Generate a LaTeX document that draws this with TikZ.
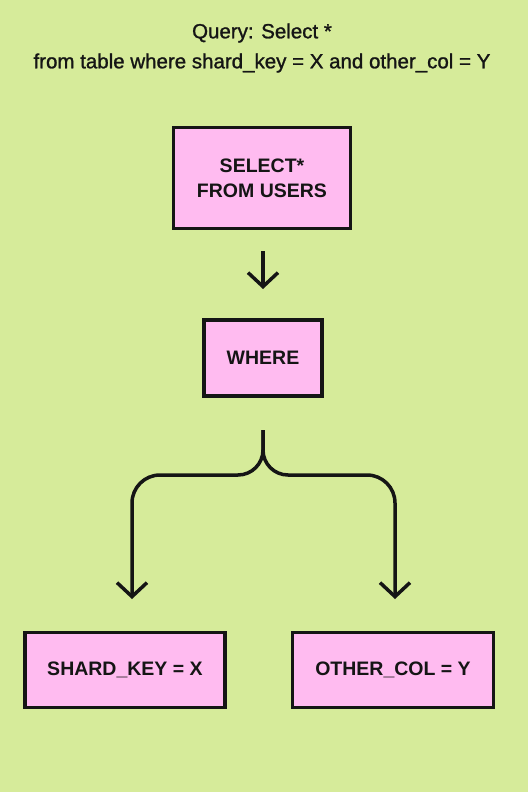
\documentclass[tikz,border=0pt]{standalone}
\usepackage{fontspec}
\setmainfont{Liberation Sans}
\newfontfamily\titlefont{Liberation Sans}[FakeBold=1.2]
\usetikzlibrary{arrows.meta}
\definecolor{bg}{HTML}{D6EB9A}
\definecolor{boxpink}{HTML}{FFBBF0}
\definecolor{ink}{HTML}{151515}
\begin{document}
\begin{tikzpicture}[x=1pt,y=-1pt,
  box/.style={draw=ink,line width=3.5pt,fill=boxpink,inner sep=0pt,align=center,
    font=\fontsize{19.5}{25}\selectfont\bfseries,text=ink},
  conn/.style={draw=ink,line width=3.5pt,-{Straight Barb[length=14pt,width=30pt,line width=3.5pt]}},
  title/.style={font=\titlefont\fontsize{20.5}{30}\selectfont,text=ink,align=center}]
\fill[bg] (0,0) rectangle (528,792);
\useasboundingbox (0,0) rectangle (528,792);
\node[title] (q1) at (262,33) {Query: Select *};
\node[title] (q2) at (262,63) {from table where shard\_key = X and other\_col = Y};
\node[box,minimum width=177pt,minimum height=101pt] (sel) at (262,178) {SELECT*\\FROM USERS};
\node[box,minimum width=118pt,minimum height=76pt] (where) at (263,358) {WHERE};
\node[box,minimum width=200pt,minimum height=75pt] (shard) at (125,670) {SHARD\_KEY = X};
\node[box,minimum width=201pt,minimum height=75pt] (other) at (393,670) {OTHER\_COL = Y};
\coordinate (a1s) at (263,251);
\coordinate (a1e) at (263,289);
\draw[conn] (a1s) -- (a1e);
\coordinate (bs) at (263,430);
\coordinate (le) at (132,599);
\coordinate (re) at (395,599);
\draw[conn] (bs) -- (263,450) arc[start angle=0,end angle=90,radius=25] -- (160,475) arc[start angle=270,end angle=180,radius=28] -- (le);
\draw[conn] (bs) -- (263,450) arc[start angle=180,end angle=90,radius=25] -- (367,475) arc[start angle=270,end angle=360,radius=28] -- (re);
\end{tikzpicture}
\end{document}
